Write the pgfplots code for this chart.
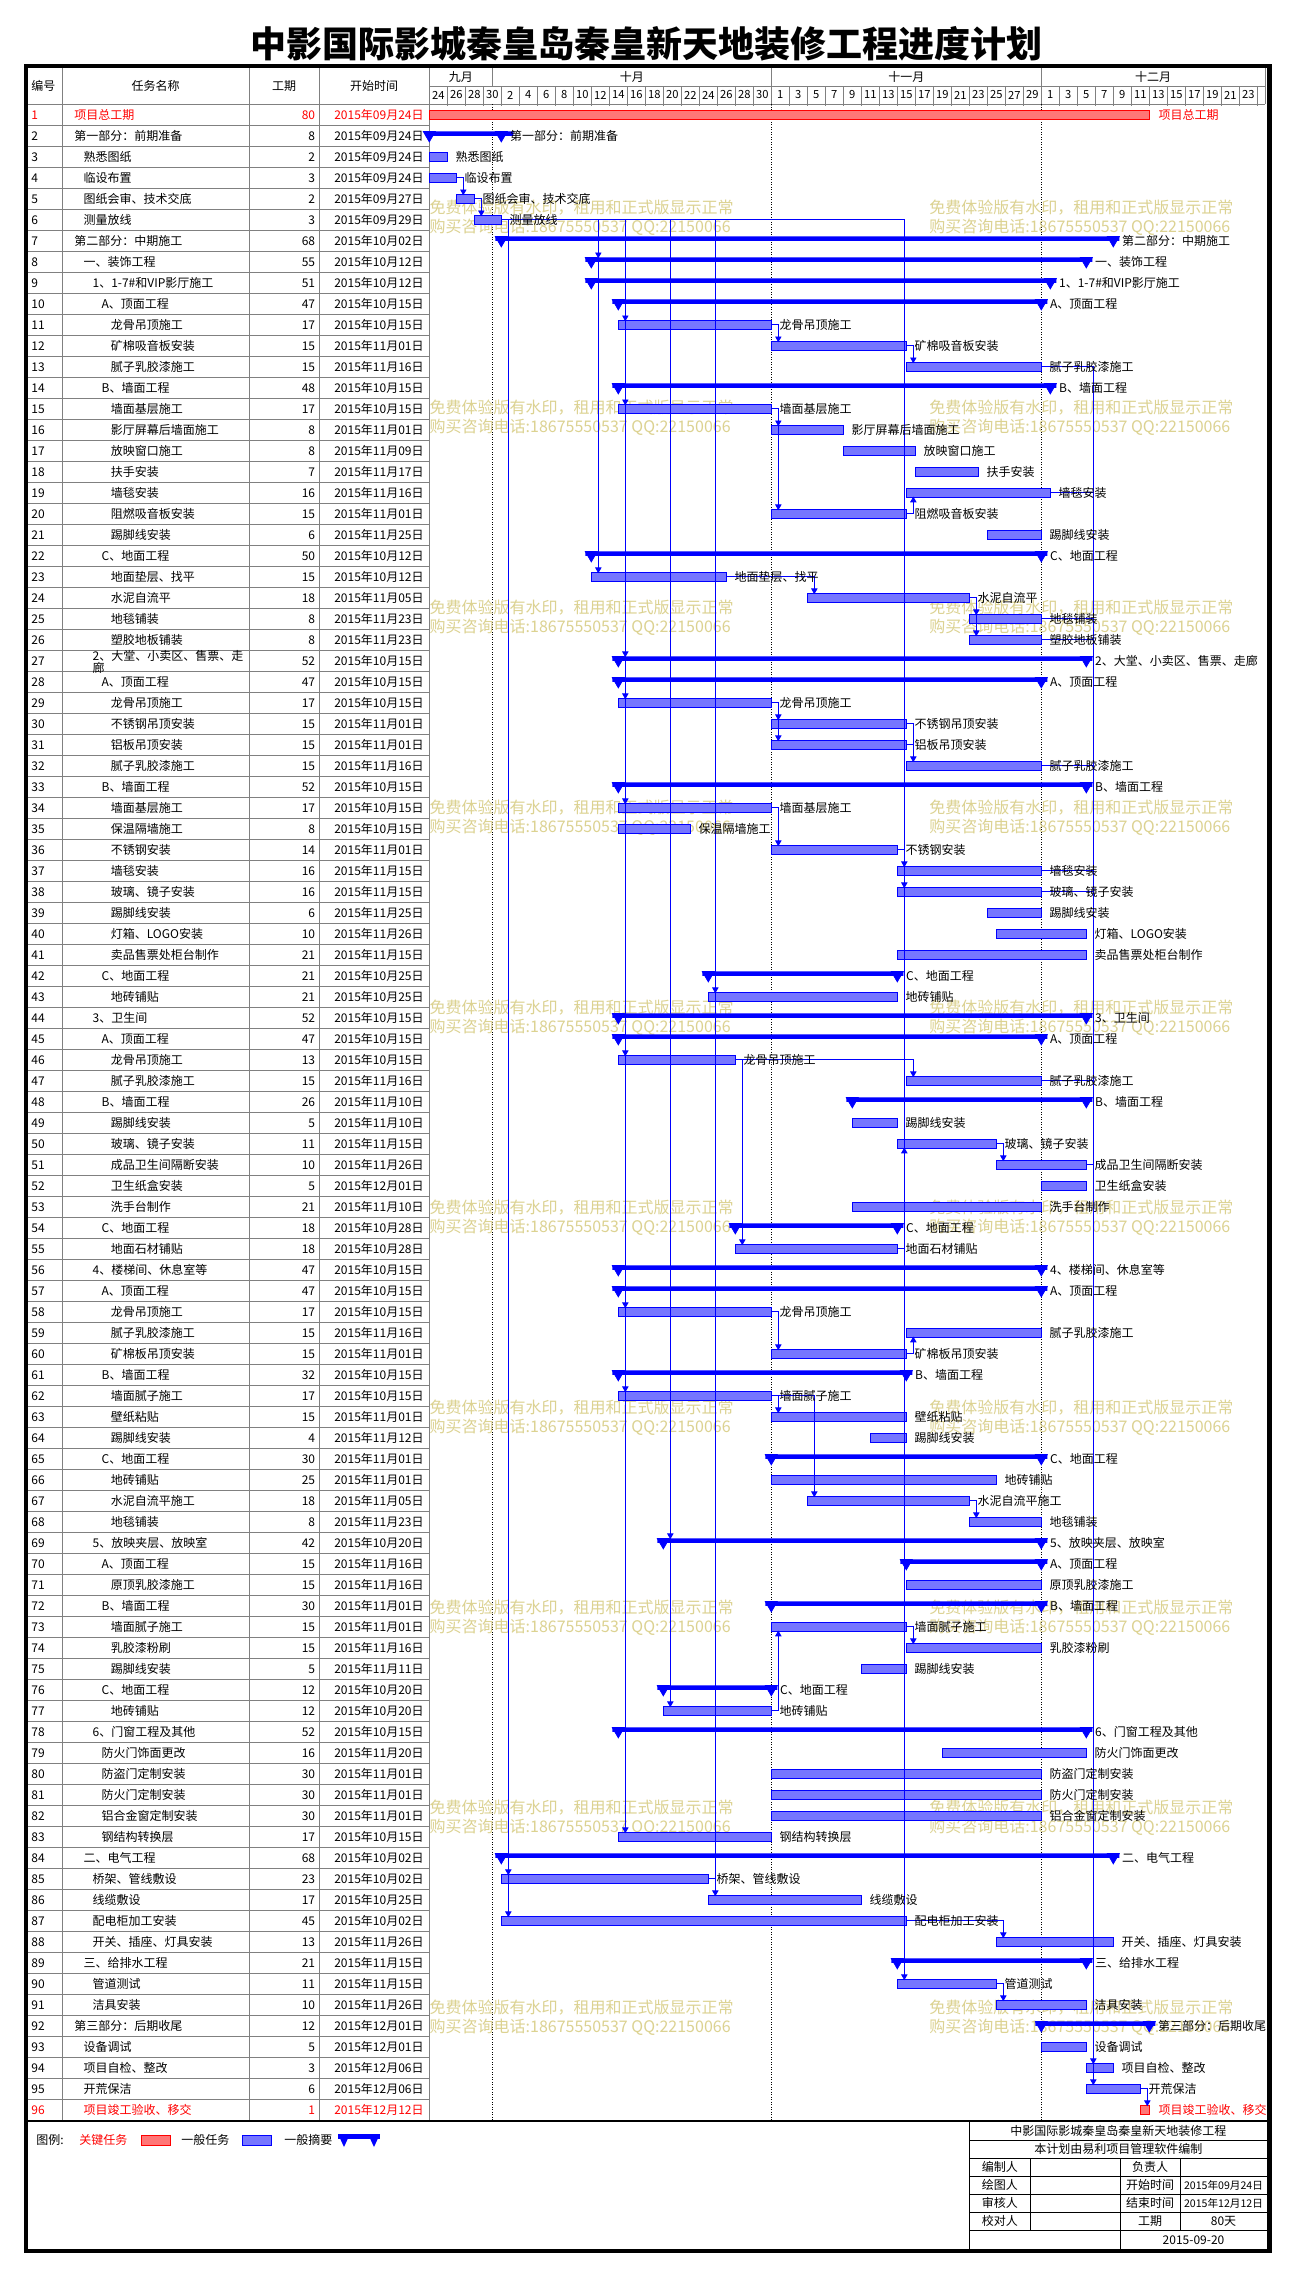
\documentclass[border=0pt]{standalone}
\usepackage{fontspec}
\setmainfont{Noto Sans CJK SC}
\usepackage{pgfplots}
\usepackage{pgfplotstable}
\pgfplotsset{compat=1.18}
\definecolor{tb}{RGB}{0,0,255}
\definecolor{tbfill}{RGB}{118,118,255}
\definecolor{crfill}{RGB}{255,118,118}
\definecolor{gridgray}{RGB}{128,128,128}
\definecolor{wm}{RGB}{220,210,145}

% day index: 0 = 2015-09-24
\pgfplotstableread{
row start dur label
3 0 2 熟悉图纸
4 0 3 临设布置
5 3 2 图纸会审、技术交底
6 5 3 测量放线
11 21 17 龙骨吊顶施工
12 38 15 矿棉吸音板安装
13 53 15 腻子乳胶漆施工
15 21 17 墙面基层施工
16 38 8 影厅屏幕后墙面施工
17 46 8 放映窗口施工
18 54 7 扶手安装
19 53 16 墙毯安装
20 38 15 阻燃吸音板安装
21 62 6 踢脚线安装
23 18 15 地面垫层、找平
24 42 18 水泥自流平
25 60 8 地毯铺装
26 60 8 塑胶地板铺装
29 21 17 龙骨吊顶施工
30 38 15 不锈钢吊顶安装
31 38 15 铝板吊顶安装
32 53 15 腻子乳胶漆施工
34 21 17 墙面基层施工
35 21 8 保温隔墙施工
36 38 14 不锈钢安装
37 52 16 墙毯安装
38 52 16 玻璃、镜子安装
39 62 6 踢脚线安装
40 63 10 灯箱、LOGO安装
41 52 21 卖品售票处柜台制作
43 31 21 地砖铺贴
46 21 13 龙骨吊顶施工
47 53 15 腻子乳胶漆施工
49 47 5 踢脚线安装
50 52 11 玻璃、镜子安装
51 63 10 成品卫生间隔断安装
52 68 5 卫生纸盒安装
53 47 21 洗手台制作
55 34 18 地面石材铺贴
58 21 17 龙骨吊顶施工
59 53 15 腻子乳胶漆施工
60 38 15 矿棉板吊顶安装
62 21 17 墙面腻子施工
63 38 15 壁纸粘贴
64 49 4 踢脚线安装
66 38 25 地砖铺贴
67 42 18 水泥自流平施工
68 60 8 地毯铺装
71 53 15 原顶乳胶漆施工
73 38 15 墙面腻子施工
74 53 15 乳胶漆粉刷
75 48 5 踢脚线安装
77 26 12 地砖铺贴
79 57 16 防火门饰面更改
80 38 30 防盗门定制安装
81 38 30 防火门定制安装
82 38 30 铝合金窗定制安装
83 21 17 钢结构转换层
85 8 23 桥架、管线敷设
86 31 17 线缆敷设
87 8 45 配电柜加工安装
88 63 13 开关、插座、灯具安装
90 52 11 管道测试
91 63 10 洁具安装
93 68 5 设备调试
94 73 3 项目自检、整改
95 73 6 开荒保洁
}\tasks

\pgfplotstableread{
row start dur label
2 0 8 第一部分：前期准备
7 8 68 第二部分：中期施工
8 18 55 一、装饰工程
9 18 51 1、1-7\#和VIP影厅施工
10 21 47 A、顶面工程
14 21 48 B、墙面工程
22 18 50 C、地面工程
27 21 52 2、大堂、小卖区、售票、走廊
28 21 47 A、顶面工程
33 21 52 B、墙面工程
42 31 21 C、地面工程
44 21 52 3、卫生间
45 21 47 A、顶面工程
48 47 26 B、墙面工程
54 34 18 C、地面工程
56 21 47 4、楼梯间、休息室等
57 21 47 A、顶面工程
61 21 32 B、墙面工程
65 38 30 C、地面工程
69 26 42 5、放映夹层、放映室
70 53 15 A、顶面工程
72 38 30 B、墙面工程
76 26 12 C、地面工程
78 21 52 6、门窗工程及其他
84 8 68 二、电气工程
89 52 21 三、给排水工程
92 68 12 第三部分：后期收尾
}\sums

\pgfplotstableread{
row start dur label
1 0 80 项目总工期
96 79 1 项目竣工验收、移交
}\crit

\pgfplotsset{
  gantt/.style={at={(214.65pt,-1060.15pt)}, anchor=south west, scale only axis,
    width=418.5pt, height=1008pt, xmin=0, xmax=93, ymin=0, ymax=96,
    y dir=reverse, clip=false},
  lab/.style={every node near coord/.style={anchor=west, inner sep=0pt,
    font=\fontsize{6}{7}\selectfont, text=#1}},
}

\newcommand\TR[7][black]{%
  \pgfmathsetmacro\yc{104.3+(#2-0.5)*21}%
  \node[tt,text=#1,anchor=west] at (31,\yc) {#2};
  \node[tt,text=#1,anchor=west] at ({74+9.1*#3},\yc) {#4};
  \node[tt,text=#1,anchor=east] at (315.5,\yc) {#5};
  \node[tt,text=#1,anchor=east] at (424,\yc) {2015年#6月#7日};
}

\begin{document}
\begin{tikzpicture}[x=0.5pt,y=-0.5pt,
  tt/.style={font=\fontsize{6}{7}\selectfont, inner sep=0pt},
  ts/.style={font=\fontsize{5.3}{6}\selectfont, inner sep=0pt},
  dd/.style={font=\fontsize{5.6}{6}\selectfont, inner sep=0pt},
  wmk/.style={font=\fontsize{8}{9}\selectfont, inner sep=0pt, text=wm, anchor=west},
  gl/.style={draw=gridgray, line width=0.5pt}]
\path[use as bounding box, fill=white] (0,0) rectangle (1293,2275);

\node[font=\fontsize{18}{20}\selectfont\bfseries, inner sep=0pt] at (646,44)
  {中影国际影城秦皇岛秦皇新天地装修工程进度计划};

% table grid
\foreach \k in {0,...,96} \draw[gl] (25,{104.3+21*\k}) -- (429.3,{104.3+21*\k});
\foreach \xx in {62,249,319,429.3} \draw[gl] (\xx,68) -- (\xx,2120.3);
\draw[gl] (429.3,86) -- (1265,86);
\draw[gl] (429.3,104.3) -- (1265,104.3);
\foreach \k in {1,...,46} \draw[gl] ({429.3+18*\k},86) -- ({429.3+18*\k},106);
\foreach \xx in {492.3,771.3,1041.3} \draw[gl] (\xx,68) -- (\xx,86);
\draw[gl] (1265,68) -- (1265,104.3);

% header
\node[tt] at (43.5,86) {编号};
\node[tt] at (155.5,86) {任务名称};
\node[tt] at (284,86) {工期};
\node[tt] at (374,86) {开始时间};
\node[tt] at (460.8,77) {九月};
\node[tt] at (631.8,77) {十月};
\node[tt] at (906.3,77) {十一月};
\node[tt] at (1153,77) {十二月};
\foreach \lab [count=\k from 0] in {24,26,28,30,2,4,6,8,10,12,14,16,18,20,22,24,26,28,30,1,3,5,7,9,11,13,15,17,19,21,23,25,27,29,1,3,5,7,9,11,13,15,17,19,21,23}
  \node[dd] at ({429.3+18*\k+9},95) {\lab};

% table rows
\TR[red]{1}{0}{项目总工期}{80}{09}{24}
\TR{2}{0}{第一部分：前期准备}{8}{09}{24}
\TR{3}{1}{熟悉图纸}{2}{09}{24}
\TR{4}{1}{临设布置}{3}{09}{24}
\TR{5}{1}{图纸会审、技术交底}{2}{09}{27}
\TR{6}{1}{测量放线}{3}{09}{29}
\TR{7}{0}{第二部分：中期施工}{68}{10}{02}
\TR{8}{1}{一、装饰工程}{55}{10}{12}
\TR{9}{2}{1、1-7\#和VIP影厅施工}{51}{10}{12}
\TR{10}{3}{A、顶面工程}{47}{10}{15}
\TR{11}{4}{龙骨吊顶施工}{17}{10}{15}
\TR{12}{4}{矿棉吸音板安装}{15}{11}{01}
\TR{13}{4}{腻子乳胶漆施工}{15}{11}{16}
\TR{14}{3}{B、墙面工程}{48}{10}{15}
\TR{15}{4}{墙面基层施工}{17}{10}{15}
\TR{16}{4}{影厅屏幕后墙面施工}{8}{11}{01}
\TR{17}{4}{放映窗口施工}{8}{11}{09}
\TR{18}{4}{扶手安装}{7}{11}{17}
\TR{19}{4}{墙毯安装}{16}{11}{16}
\TR{20}{4}{阻燃吸音板安装}{15}{11}{01}
\TR{21}{4}{踢脚线安装}{6}{11}{25}
\TR{22}{3}{C、地面工程}{50}{10}{12}
\TR{23}{4}{地面垫层、找平}{15}{10}{12}
\TR{24}{4}{水泥自流平}{18}{11}{05}
\TR{25}{4}{地毯铺装}{8}{11}{23}
\TR{26}{4}{塑胶地板铺装}{8}{11}{23}
\TR{27}{2}{}{52}{10}{15}
\node[tt,anchor=west] at (92.3,655.5) {2、大堂、小卖区、售票、走};
\node[tt,anchor=west] at (92.3,667.5) {廊};
\TR{28}{3}{A、顶面工程}{47}{10}{15}
\TR{29}{4}{龙骨吊顶施工}{17}{10}{15}
\TR{30}{4}{不锈钢吊顶安装}{15}{11}{01}
\TR{31}{4}{铝板吊顶安装}{15}{11}{01}
\TR{32}{4}{腻子乳胶漆施工}{15}{11}{16}
\TR{33}{3}{B、墙面工程}{52}{10}{15}
\TR{34}{4}{墙面基层施工}{17}{10}{15}
\TR{35}{4}{保温隔墙施工}{8}{10}{15}
\TR{36}{4}{不锈钢安装}{14}{11}{01}
\TR{37}{4}{墙毯安装}{16}{11}{15}
\TR{38}{4}{玻璃、镜子安装}{16}{11}{15}
\TR{39}{4}{踢脚线安装}{6}{11}{25}
\TR{40}{4}{灯箱、LOGO安装}{10}{11}{26}
\TR{41}{4}{卖品售票处柜台制作}{21}{11}{15}
\TR{42}{3}{C、地面工程}{21}{10}{25}
\TR{43}{4}{地砖铺贴}{21}{10}{25}
\TR{44}{2}{3、卫生间}{52}{10}{15}
\TR{45}{3}{A、顶面工程}{47}{10}{15}
\TR{46}{4}{龙骨吊顶施工}{13}{10}{15}
\TR{47}{4}{腻子乳胶漆施工}{15}{11}{16}
\TR{48}{3}{B、墙面工程}{26}{11}{10}
\TR{49}{4}{踢脚线安装}{5}{11}{10}
\TR{50}{4}{玻璃、镜子安装}{11}{11}{15}
\TR{51}{4}{成品卫生间隔断安装}{10}{11}{26}
\TR{52}{4}{卫生纸盒安装}{5}{12}{01}
\TR{53}{4}{洗手台制作}{21}{11}{10}
\TR{54}{3}{C、地面工程}{18}{10}{28}
\TR{55}{4}{地面石材铺贴}{18}{10}{28}
\TR{56}{2}{4、楼梯间、休息室等}{47}{10}{15}
\TR{57}{3}{A、顶面工程}{47}{10}{15}
\TR{58}{4}{龙骨吊顶施工}{17}{10}{15}
\TR{59}{4}{腻子乳胶漆施工}{15}{11}{16}
\TR{60}{4}{矿棉板吊顶安装}{15}{11}{01}
\TR{61}{3}{B、墙面工程}{32}{10}{15}
\TR{62}{4}{墙面腻子施工}{17}{10}{15}
\TR{63}{4}{壁纸粘贴}{15}{11}{01}
\TR{64}{4}{踢脚线安装}{4}{11}{12}
\TR{65}{3}{C、地面工程}{30}{11}{01}
\TR{66}{4}{地砖铺贴}{25}{11}{01}
\TR{67}{4}{水泥自流平施工}{18}{11}{05}
\TR{68}{4}{地毯铺装}{8}{11}{23}
\TR{69}{2}{5、放映夹层、放映室}{42}{10}{20}
\TR{70}{3}{A、顶面工程}{15}{11}{16}
\TR{71}{4}{原顶乳胶漆施工}{15}{11}{16}
\TR{72}{3}{B、墙面工程}{30}{11}{01}
\TR{73}{4}{墙面腻子施工}{15}{11}{01}
\TR{74}{4}{乳胶漆粉刷}{15}{11}{16}
\TR{75}{4}{踢脚线安装}{5}{11}{11}
\TR{76}{3}{C、地面工程}{12}{10}{20}
\TR{77}{4}{地砖铺贴}{12}{10}{20}
\TR{78}{2}{6、门窗工程及其他}{52}{10}{15}
\TR{79}{3}{防火门饰面更改}{16}{11}{20}
\TR{80}{3}{防盗门定制安装}{30}{11}{01}
\TR{81}{3}{防火门定制安装}{30}{11}{01}
\TR{82}{3}{铝合金窗定制安装}{30}{11}{01}
\TR{83}{3}{钢结构转换层}{17}{10}{15}
\TR{84}{1}{二、电气工程}{68}{10}{02}
\TR{85}{2}{桥架、管线敷设}{23}{10}{02}
\TR{86}{2}{线缆敷设}{17}{10}{25}
\TR{87}{2}{配电柜加工安装}{45}{10}{02}
\TR{88}{2}{开关、插座、灯具安装}{13}{11}{26}
\TR{89}{1}{三、给排水工程}{21}{11}{15}
\TR{90}{2}{管道测试}{11}{11}{15}
\TR{91}{2}{洁具安装}{10}{11}{26}
\TR{92}{0}{第三部分：后期收尾}{12}{12}{01}
\TR{93}{1}{设备调试}{5}{12}{01}
\TR{94}{1}{项目自检、整改}{3}{12}{06}
\TR{95}{1}{开荒保洁}{6}{12}{06}
\TR[red]{96}{1}{项目竣工验收、移交}{1}{12}{12}

% month grid (dotted)
\begin{axis}[gantt, axis line style={draw=none}, xtick={7,38,68}, xticklabels={},
  ytick=\empty, major tick length=0pt, xmajorgrids,
  major grid style={black, line width=0.5pt, dash pattern=on 0.5pt off 0.75pt}]
\addplot[draw=none] coordinates {(0,0.5)};
\end{axis}

% watermarks
\foreach \k in {0,...,9} {
  \node[wmk] at (429.3,{208+200*\k}) {免费体验版有水印，租用和正式版显示正常};
  \node[wmk] at (429.3,{227.5+200*\k}) {购买咨询电话:18675550537 QQ:22150066};
  \node[wmk] at (929,{208+200*\k}) {免费体验版有水印，租用和正式版显示正常};
  \node[wmk] at (929,{227.5+200*\k}) {购买咨询电话:18675550537 QQ:22150066};
}

% ordinary tasks
\begin{axis}[gantt, hide axis, xbar stacked, bar width=0.4286]
\addplot[draw=none, fill=none, forget plot] table[x=start, y expr=\thisrow{row}-0.5] {\tasks};
\addplot[draw=tb, fill=tbfill, line width=0.5pt] table[x=dur, y expr=\thisrow{row}-0.5] {\tasks};
\end{axis}

% critical tasks
\begin{axis}[gantt, hide axis, xbar stacked, bar width=0.4286]
\addplot[draw=none, fill=none, forget plot] table[x=start, y expr=\thisrow{row}-0.5] {\crit};
\addplot[draw=red, fill=crfill, line width=0.5pt] table[x=dur, y expr=\thisrow{row}-0.5] {\crit};
\end{axis}

% summary tasks
\begin{axis}[gantt, hide axis, xbar stacked, bar width=0.21]
\addplot[draw=none, fill=none, forget plot] table[x expr=\thisrow{start}-0.67, y expr=\thisrow{row}-0.605] {\sums};
\addplot[draw=none, fill=tb] table[x expr=\thisrow{dur}+1.34, y expr=\thisrow{row}-0.605] {\sums};
\end{axis}

% summary end marks, links, arrows and bar labels
\begin{axis}[gantt, hide axis]
\addplot[only marks, mark=triangle*, mark size=3.45pt, mark options={rotate=180, draw=tb, fill=tb}]
  table[x=start, y expr=\thisrow{row}-0.545] {\sums};
\addplot[only marks, mark=triangle*, mark size=3.45pt, mark options={rotate=180, draw=tb, fill=tb}]
  table[x expr=\thisrow{start}+\thisrow{dur}, y expr=\thisrow{row}-0.545] {\sums};
\addplot[tb, line width=0.5pt, mark=none, unbounded coords=jump] coordinates {
(3,3.5)(3.78,3.5)(3.78,4.286)(nan,nan)
(5,4.5)(5.78,4.5)(5.78,5.286)(nan,nan)
(8,5.5)(52.78,5.5)(52.78,89.286)(nan,nan)
(8.78,5.5)(8.78,86.286)(nan,nan)
(18.78,5.5)(18.78,22.286)(nan,nan)
(21.78,5.5)(21.78,82.286)(nan,nan)
(26.78,5.5)(26.78,76.286)(nan,nan)
(31.78,5.5)(31.78,85.286)(nan,nan)
(38,10.5)(38.78,10.5)(38.78,11.286)(nan,nan)
(53,11.5)(53.78,11.5)(53.78,12.286)(nan,nan)
(68,12.5)(73.78,12.5)(73.78,94.286)(nan,nan)
(69,18.5)(73.78,18.5)(nan,nan)
(68,24.5)(73.78,24.5)(nan,nan)
(68,25.5)(73.78,25.5)(nan,nan)
(68,31.5)(73.78,31.5)(nan,nan)
(68,36.5)(73.78,36.5)(nan,nan)
(68,37.5)(73.78,37.5)(nan,nan)
(68,46.5)(73.78,46.5)(nan,nan)
(73,50.5)(73.78,50.5)(nan,nan)
(38,14.5)(38.78,14.5)(38.78,19.286)(nan,nan)
(53,19.5)(53.78,19.5)(53.78,18.714)(nan,nan)
(33,22.5)(42.78,22.5)(42.78,23.286)(nan,nan)
(60,23.5)(60.78,23.5)(60.78,25.286)(nan,nan)
(38,28.5)(38.78,28.5)(38.78,30.286)(nan,nan)
(53,29.5)(53.78,29.5)(53.78,31.286)(nan,nan)
(53,30.5)(53.78,30.5)(nan,nan)
(38,33.5)(38.78,33.5)(38.78,35.286)(nan,nan)
(52,35.5)(52.78,35.5)(nan,nan)
(34,45.5)(53.78,45.5)(53.78,46.286)(nan,nan)
(34.78,45.5)(34.78,54.286)(nan,nan)
(63,49.5)(63.78,49.5)(63.78,50.286)(nan,nan)
(52,54.5)(52.78,54.5)(nan,nan)
(38,57.5)(38.78,57.5)(38.78,59.286)(nan,nan)
(53,59.5)(53.78,59.5)(53.78,58.714)(nan,nan)
(38,61.5)(42.78,61.5)(42.78,66.286)(nan,nan)
(38.78,61.5)(38.78,62.286)(nan,nan)
(60,66.5)(60.78,66.5)(60.78,67.286)(nan,nan)
(53,72.5)(53.78,72.5)(53.78,73.286)(nan,nan)
(38,76.5)(38.78,76.5)(38.78,72.714)(nan,nan)
(31,84.5)(31.78,84.5)(nan,nan)
(53,86.5)(63.78,86.5)(63.78,87.286)(nan,nan)
(63,89.5)(63.78,89.5)(63.78,90.286)(nan,nan)
(79,94.5)(79.78,94.5)(79.78,95.286)
};
\addplot[only marks, mark=triangle*, mark size=1.5pt, mark options={rotate=180, draw=tb, fill=tb}] coordinates {
(3.78,4.143)(5.78,5.143)(8.78,84.143)(8.78,86.143)(18.78,7.143)(18.78,22.143)
(21.78,10.143)(21.78,14.143)(21.78,26.143)(21.78,28.143)(21.78,33.143)(21.78,45.143)
(21.78,57.143)(21.78,61.143)(21.78,82.143)(26.78,68.143)(26.78,76.143)
(31.78,42.143)(31.78,85.143)(52.78,36.143)(52.78,37.143)(52.78,89.143)
(38.78,11.143)(53.78,12.143)(73.78,93.143)(73.78,94.143)(38.78,15.143)(38.78,19.143)
(42.78,23.143)(60.78,24.143)(60.78,25.143)(38.78,29.143)(38.78,30.143)(53.78,31.143)
(38.78,35.143)(53.78,46.143)(34.78,54.143)(63.78,50.143)(38.78,59.143)(38.78,62.143)
(42.78,66.143)(60.78,67.143)(53.78,73.143)(63.78,87.143)(63.78,90.143)(79.78,95.143)
};
\addplot[only marks, mark=triangle*, mark size=1.5pt, mark options={draw=tb, fill=tb}] coordinates {
(53.78,18.857)(52.78,49.857)(53.78,58.857)(38.78,72.857)
};
% labels at the right end of each bar
\addplot[only marks, mark=none, nodes near coords, point meta=explicit symbolic,
  lab=black, every node near coord/.append style={xshift=4pt}]
  table[x expr=\thisrow{start}+\thisrow{dur}, y expr=\thisrow{row}-0.5, meta=label] {\tasks};
\addplot[only marks, mark=none, nodes near coords, point meta=explicit symbolic,
  lab=red, every node near coord/.append style={xshift=4.5pt}]
  table[x expr=\thisrow{start}+\thisrow{dur}, y expr=\thisrow{row}-0.5, meta=label] {\crit};
\addplot[only marks, mark=none, nodes near coords, point meta=explicit symbolic,
  lab=black, every node near coord/.append style={xshift=1.2pt}]
  table[x expr=\thisrow{start}+\thisrow{dur}+0.67, y expr=\thisrow{row}-0.5, meta=label] {\sums};
\end{axis}

% footer
\draw[black, line width=1pt] (25,2121.3) -- (1269,2121.3);
\node[tt,anchor=west] at (36,2140) {图例:};
\node[tt,anchor=west,text=red] at (79,2140) {关键任务};
\filldraw[draw=red, fill=crfill, line width=0.5pt] (141,2135) rectangle (170,2145);
\node[tt,anchor=west] at (181,2140) {一般任务};
\filldraw[draw=tb, fill=tbfill, line width=0.5pt] (242,2135) rectangle (271,2145);
\node[tt,anchor=west] at (284,2140) {一般摘要};
\fill[tb] (338,2134) rectangle (380,2139);
\fill[tb] (338,2134) -- (350,2134) -- (344,2147) -- cycle;
\fill[tb] (368,2134) -- (380,2134) -- (374,2147) -- cycle;

\draw[black, line width=0.5pt] (969.6,2121) -- (969.6,2250);
\foreach \yy in {2140.3,2158.3,2176.3,2194.3,2212.3,2230.3}
  \draw[black, line width=0.5pt] (969.6,\yy) -- (1267,\yy);
\draw[black, line width=0.5pt] (1030,2158.3) -- (1030,2230.3);
\draw[black, line width=0.5pt] (1120,2158.3) -- (1120,2250);
\draw[black, line width=0.5pt] (1180,2158.3) -- (1180,2230.3);
\node[tt] at (1118.3,2131.3) {中影国际影城秦皇岛秦皇新天地装修工程};
\node[tt] at (1118.3,2149.3) {本计划由易利项目管理软件编制};
\node[tt] at (999.8,2167.3) {编制人};
\node[tt] at (1150,2167.3) {负责人};
\node[tt] at (999.8,2185.3) {绘图人};
\node[tt] at (1150,2185.3) {开始时间};
\node[ts] at (1223.5,2185.3) {2015年09月24日};
\node[tt] at (999.8,2203.3) {审核人};
\node[tt] at (1150,2203.3) {结束时间};
\node[ts] at (1223.5,2203.3) {2015年12月12日};
\node[tt] at (999.8,2221.3) {校对人};
\node[tt] at (1150,2221.3) {工期};
\node[tt] at (1223.5,2221.3) {80天};
\node[tt] at (1193.5,2240) {2015-09-20};

% outer frame
\draw[black, line width=2.2pt] (25.7,66.2) rectangle (1269.6,2251.2);
\end{tikzpicture}
\end{document}
